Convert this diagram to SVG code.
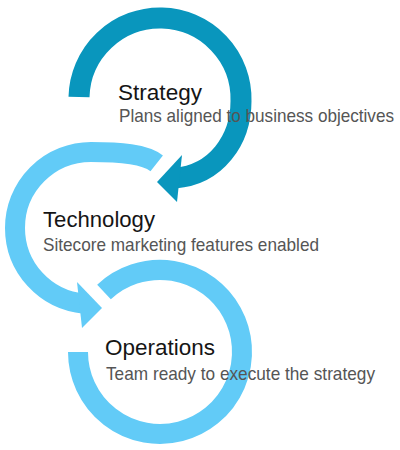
<svg xmlns="http://www.w3.org/2000/svg" width="400" height="450" viewBox="0 0 400 450">
  <style>
    .dark-arc { fill: none; stroke: #0996bd; stroke-width: 21; stroke-linecap: butt; }
    .dark-head { fill: #0996bd; }
    .light-arc { fill: none; stroke: #62cbf7; stroke-width: 20; stroke-linecap: butt; }
    .light-head { fill: #62cbf7; }
    .title { font-family: "Liberation Sans", Arial, sans-serif; font-size: 22.5px; fill: #151515; }
    .sub { font-family: "Liberation Sans", Arial, sans-serif; font-size: 19px; fill: #555555; }
  </style>
  <rect width="400" height="450" fill="#ffffff"/>
  <g id="connectors">
    <g id="arc-strategy">
      <path class="dark-arc" d="M79,97 A81,81 0 0 1 241,101 C241,140 216,175 175,178"/>
      <polygon class="dark-head" points="182,155 157,182 177,202"/>
    </g>
    <g id="arc-technology">
      <path class="light-arc" d="M156.7,163.3 C145,154 120,152 91,152 A76,76 0 0 0 15,228 A76,76 0 0 0 84.4,303.7"/>
      <polygon class="light-head" points="77,282 102,308 82,328"/>
    </g>
    <g id="arc-operations">
      <path class="light-arc" d="M78,352 A82,82 0 1 0 104,292"/>
    </g>
  </g>
  <g id="node-strategy">
    <text class="title" x="118" y="100" textLength="84" lengthAdjust="spacingAndGlyphs">Strategy</text>
    <text class="sub" x="119" y="122" textLength="275" lengthAdjust="spacingAndGlyphs">Plans aligned to business objectives</text>
  </g>
  <g id="node-technology">
    <text class="title" x="43" y="227" textLength="112" lengthAdjust="spacingAndGlyphs">Technology</text>
    <text class="sub" x="43" y="251" textLength="276" lengthAdjust="spacingAndGlyphs">Sitecore marketing features enabled</text>
  </g>
  <g id="node-operations">
    <text class="title" x="105" y="355" textLength="110" lengthAdjust="spacingAndGlyphs">Operations</text>
    <text class="sub" x="106" y="380" textLength="269" lengthAdjust="spacingAndGlyphs">Team ready to execute the strategy</text>
  </g>
</svg>
